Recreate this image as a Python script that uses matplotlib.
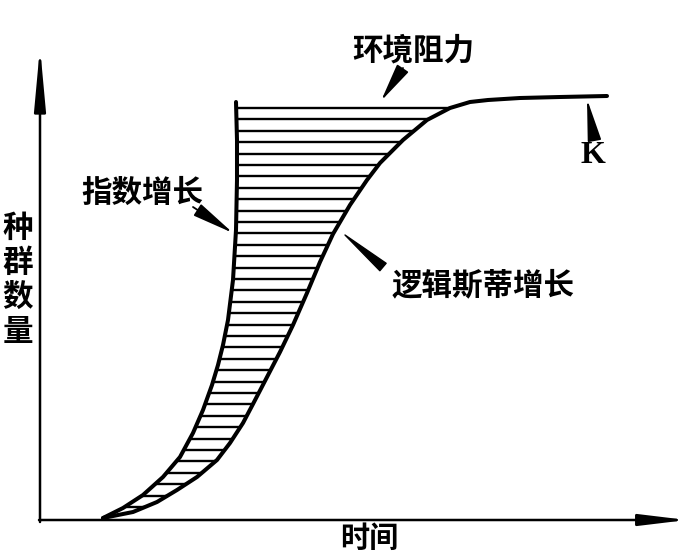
import numpy as np
import matplotlib
matplotlib.use("Agg")
import matplotlib.pyplot as plt

plt.rcParams['font.family'] = ['Noto Sans CJK SC', 'DejaVu Sans']

# ---- data (time, population) ----
exp_t = [63, 83, 103, 123, 140, 153, 163, 172, 178, 183, 188, 193, 196, 197, 197, 196]
exp_N = [2, 12, 25, 43, 63, 87, 110, 135, 155, 175, 200, 240, 290, 340, 380, 418]

log_t = [63, 93, 117, 137, 157, 177, 190, 203, 213, 226, 240, 253, 267, 280, 293,
         310, 327, 340, 363, 387, 410, 430, 448, 480, 520, 567]
log_N = [2, 8, 18, 30, 43, 60, 77, 97, 116, 141, 168, 195, 227, 258, 286,
         315, 340, 357, 380, 400, 412, 418, 420, 422, 423, 424]

resist_top = 412      # upper bound of the shaded "environmental resistance" area
hatch_step = 11.4

label_exp = "指数增长"
label_log = "逻辑斯蒂增长"
label_res = "环境阻力"
label_K = "K"
label_x = "时间"
label_y = "种\n群\n数\n量"

# ---- figure ----
fig = plt.figure(figsize=(6.98, 5.55), dpi=100)
ax = fig.add_axes([0, 0, 1, 1])
ax.set_xlim(-40, 658)
ax.set_ylim(-35, 520)
ax.axis('off')

# axes with arrows
ax.annotate('', xy=(0, 473), xytext=(0, -2),
            arrowprops=dict(arrowstyle='-|>,head_length=3.8,head_width=0.35',
                            lw=1.8, color='black', shrinkA=0, shrinkB=0,
                            mutation_scale=10))
ax.annotate('', xy=(647, 0), xytext=(-1, 0),
            arrowprops=dict(arrowstyle='-|>,head_length=2.9,head_width=0.35',
                            lw=1.8, color='black', shrinkA=0, shrinkB=0,
                            mutation_scale=10))

# hatching between the two curves
levels = np.arange(resist_top, 8, -hatch_step)
xl = np.interp(levels, exp_N, exp_t)
xr = np.interp(levels, log_N, log_t)
ax.hlines(levels, xl, xr, colors='black', lw=1.7)

# curves
ax.plot(exp_t, exp_N, color='black', lw=2.9, solid_capstyle='round', solid_joinstyle='round')
ax.plot(log_t, log_N, color='black', lw=2.9, solid_capstyle='round', solid_joinstyle='round')

# labels
fs = 22
ax.text(373, 470, label_res, fontsize=fs, ha='center', va='center', weight='bold')
ax.text(102, 327, label_exp, fontsize=fs, ha='center', va='center', weight='bold')
ax.text(443, 235, label_log, fontsize=fs, ha='center', va='center', weight='bold')
ax.text(329, -18, label_x, fontsize=21, ha='center', va='center', weight='bold')
ax.text(-22, 240, label_y, fontsize=fs, ha='center', va='center', weight='bold',
        linespacing=1.1)
ax.text(553, 357, label_K, fontsize=23, ha='center', va='baseline', weight='bold',
        family=['Liberation Serif', 'DejaVu Serif'])

# pointer arrows
def pointer(tip, tail, hl=2.4, hw=0.42):
    ax.annotate('', xy=tip, xytext=tail,
                arrowprops=dict(arrowstyle=f'-|>,head_length={hl},head_width={hw}',
                                lw=1.3, color='black', shrinkA=0, shrinkB=0,
                                mutation_scale=10))

pointer((341, 419), (363, 452))
pointer((193, 287), (153, 313), hl=2.6)
pointer((547, 421), (554, 382), hl=2.6)
ax.annotate('', xy=(305, 285), xytext=(343, 253),
            arrowprops=dict(arrowstyle='wedge,tail_width=0.7,shrink_factor=0.5',
                            color='black', shrinkA=0, shrinkB=0, mutation_scale=10))

fig.savefig('out.png', dpi=100)
